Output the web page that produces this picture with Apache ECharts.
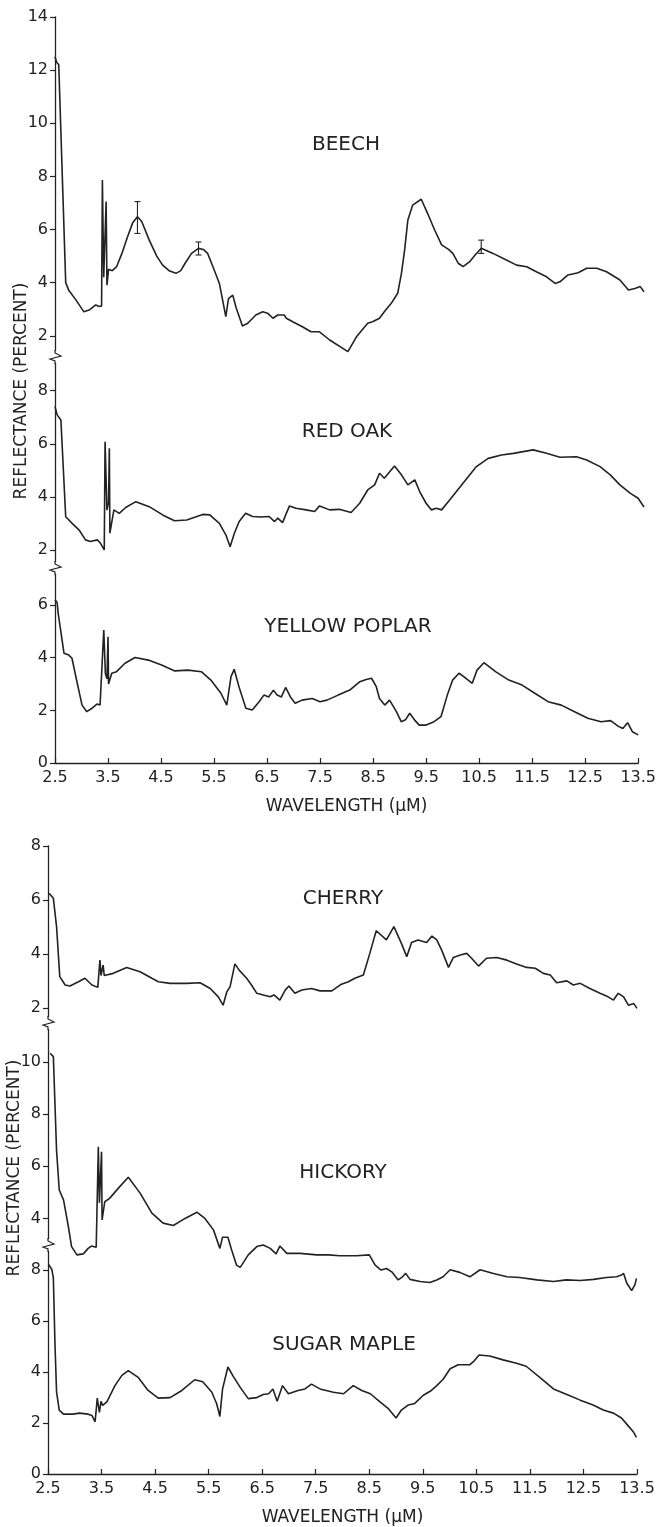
<!DOCTYPE html>
<html><head><meta charset="utf-8">
<script src="https://cdn.jsdelivr.net/npm/echarts@6/dist/echarts.min.js"></script>
<style>html,body{margin:0;padding:0;background:#fff}#c{width:659px;height:1527px}</style>
</head><body><div id="c"></div>
<script>
// ---------- DATA ----------
const xTicks = [2.5,3.5,4.5,5.5,6.5,7.5,8.5,9.5,10.5,11.5,12.5,13.5];
const beechTicks = [2,4,6,8,10,12,14];
const redOakTicks = [2,4,6,8];
const poplarTicks = [0,2,4,6];
const cherryTicks = [2,4,6,8];
const hickoryTicks = [4,6,8,10];
const mapleTicks = [0,2,4,6,8];
const names = ['BEECH','RED OAK','YELLOW POPLAR','CHERRY','HICKORY','SUGAR MAPLE'];
const xTitle = 'WAVELENGTH (µM)';
const yTitle = 'REFLECTANCE (PERCENT)';

const beech = [[2.50,12.5],[2.53,12.3],[2.57,12.2],[2.70,4.0],[2.76,3.7],[2.89,3.35],[3.04,2.90],[3.15,2.98],[3.26,3.16],[3.33,3.10],[3.37,3.12],[3.385,7.86],[3.41,4.2],[3.455,7.05],[3.47,3.9],[3.50,4.5],[3.57,4.45],[3.65,4.6],[3.75,5.1],[3.85,5.7],[3.95,6.25],[4.04,6.48],[4.12,6.3],[4.26,5.6],[4.40,5.0],[4.51,4.66],[4.63,4.45],[4.76,4.35],[4.85,4.45],[4.93,4.73],[5.05,5.1],[5.18,5.29],[5.27,5.25],[5.35,5.1],[5.45,4.6],[5.57,3.97],[5.69,2.72],[5.74,3.4],[5.82,3.53],[5.88,3.07],[6.0,2.37],[6.1,2.47],[6.25,2.78],[6.38,2.90],[6.47,2.85],[6.57,2.66],[6.66,2.78],[6.78,2.78],[6.82,2.66],[6.94,2.53],[7.12,2.34],[7.28,2.15],[7.44,2.15],[7.63,1.84],[7.97,1.40],[8.13,1.96],[8.34,2.47],[8.43,2.53],[8.56,2.66],[8.65,2.90],[8.78,3.22],[8.90,3.6],[8.97,4.35],[9.03,5.23],[9.09,6.36],[9.18,6.92],[9.34,7.14],[9.46,6.6],[9.59,5.98],[9.72,5.42],[9.85,5.25],[9.93,5.10],[10.03,4.73],[10.12,4.60],[10.24,4.78],[10.35,5.05],[10.46,5.29],[10.68,5.10],[10.93,4.85],[11.12,4.66],[11.31,4.60],[11.49,4.41],[11.68,4.22],[11.84,3.97],[11.93,4.03],[12.08,4.29],[12.27,4.37],[12.43,4.54],[12.62,4.54],[12.80,4.41],[12.93,4.25],[13.05,4.10],[13.21,3.72],[13.33,3.78],[13.43,3.85],[13.50,3.66]];
const beechErr = [[4.04,5.85,7.05],[5.18,5.04,5.53],[10.46,5.1,5.6]];

const redOak = [[2.50,7.40],[2.54,7.09],[2.57,7.1],[2.61,6.9],[2.70,3.25],[2.82,3.0],[2.95,2.75],[3.07,2.38],[3.16,2.32],[3.29,2.38],[3.35,2.25],[3.42,2.0],[3.435,6.08],[3.47,3.5],[3.50,3.8],[3.515,5.83],[3.525,2.63],[3.60,3.51],[3.70,3.38],[3.82,3.6],[4.01,3.82],[4.26,3.63],[4.51,3.32],[4.73,3.10],[4.96,3.13],[5.26,3.34],[5.39,3.32],[5.57,3.0],[5.69,2.57],[5.77,2.12],[5.85,2.63],[5.94,3.07],[6.06,3.38],[6.19,3.26],[6.35,3.24],[6.50,3.26],[6.60,3.07],[6.66,3.20],[6.75,3.03],[6.82,3.38],[6.88,3.66],[7.00,3.57],[7.19,3.51],[7.35,3.45],[7.44,3.66],[7.63,3.51],[7.81,3.53],[8.03,3.41],[8.19,3.76],[8.34,4.26],[8.47,4.45],[8.56,4.89],[8.65,4.70],[8.84,5.16],[8.97,4.83],[9.09,4.45],[9.22,4.64],[9.31,4.20],[9.43,3.76],[9.53,3.51],[9.62,3.57],[9.72,3.51],[9.87,3.88],[10.12,4.51],[10.37,5.14],[10.59,5.45],[10.84,5.58],[11.06,5.64],[11.43,5.77],[11.68,5.64],[11.93,5.49],[12.24,5.51],[12.43,5.39],[12.68,5.14],[12.87,4.83],[13.05,4.45],[13.24,4.14],[13.39,3.95],[13.50,3.62]];

const poplar = [[2.50,6.20],[2.54,6.1],[2.56,5.69],[2.67,4.17],[2.76,4.10],[2.82,3.98],[2.92,3.03],[3.01,2.20],[3.10,1.95],[3.19,2.07],[3.29,2.24],[3.35,2.20],[3.42,5.05],[3.45,3.4],[3.48,3.2],[3.50,4.80],[3.51,3.0],[3.57,3.41],[3.66,3.47],[3.82,3.79],[4.01,4.01],[4.26,3.91],[4.51,3.72],[4.76,3.50],[5.01,3.53],[5.26,3.47],[5.44,3.15],[5.63,2.65],[5.74,2.20],[5.82,3.28],[5.88,3.56],[5.97,2.90],[6.10,2.08],[6.22,2.01],[6.35,2.33],[6.44,2.58],[6.53,2.51],[6.62,2.77],[6.69,2.58],[6.77,2.51],[6.85,2.87],[6.94,2.51],[7.03,2.27],[7.16,2.39],[7.35,2.45],[7.50,2.33],[7.63,2.39],[7.84,2.58],[8.06,2.77],[8.25,3.09],[8.37,3.17],[8.47,3.22],[8.56,2.90],[8.62,2.45],[8.72,2.20],[8.81,2.39],[8.94,1.95],[9.03,1.57],[9.11,1.64],[9.19,1.89],[9.28,1.64],[9.37,1.44],[9.50,1.44],[9.65,1.57],[9.78,1.76],[9.90,2.58],[10.0,3.15],[10.12,3.41],[10.21,3.28],[10.37,3.03],[10.46,3.53],[10.59,3.81],[10.81,3.47],[11.06,3.15],[11.31,2.96],[11.55,2.65],[11.80,2.33],[12.05,2.20],[12.30,1.95],[12.55,1.70],[12.80,1.57],[12.98,1.61],[13.12,1.40],[13.21,1.31],[13.30,1.53],[13.39,1.19],[13.50,1.07]];

const cherry = [[2.52,6.25],[2.60,6.06],[2.66,5.01],[2.72,3.16],[2.82,2.85],[2.91,2.81],[3.07,2.97],[3.19,3.10],[3.32,2.85],[3.43,2.76],[3.47,3.77],[3.49,3.2],[3.53,3.59],[3.55,3.2],[3.72,3.28],[3.97,3.50],[4.22,3.34],[4.44,3.10],[4.56,2.97],[4.78,2.91],[5.09,2.91],[5.34,2.93],[5.53,2.72],[5.68,2.41],[5.77,2.10],[5.84,2.60],[5.90,2.78],[5.99,3.63],[6.07,3.40],[6.21,3.10],[6.30,2.85],[6.40,2.54],[6.52,2.48],[6.65,2.41],[6.72,2.48],[6.83,2.29],[6.93,2.66],[7.00,2.81],[7.11,2.54],[7.24,2.66],[7.42,2.72],[7.58,2.63],[7.80,2.63],[7.98,2.88],[8.11,2.97],[8.23,3.10],[8.39,3.22],[8.51,4.02],[8.63,4.86],[8.82,4.52],[8.96,5.01],[9.10,4.39],[9.20,3.90],[9.29,4.42],[9.41,4.52],[9.57,4.42],[9.67,4.66],[9.76,4.52],[9.85,4.15],[9.98,3.50],[10.07,3.87],[10.20,3.96],[10.32,4.02],[10.41,3.84],[10.54,3.55],[10.69,3.84],[10.88,3.87],[11.07,3.77],[11.25,3.63],[11.44,3.50],[11.60,3.47],[11.75,3.28],[11.88,3.22],[12.0,2.93],[12.19,3.0],[12.31,2.85],[12.44,2.91],[12.62,2.72],[12.81,2.54],[12.96,2.41],[13.06,2.29],[13.15,2.54],[13.25,2.41],[13.34,2.10],[13.44,2.16],[13.50,1.98]];

const hickory = [[2.54,10.34],[2.60,10.21],[2.66,6.6],[2.71,5.09],[2.79,4.71],[2.88,3.69],[2.94,2.92],[3.04,2.60],[3.16,2.64],[3.25,2.85],[3.31,2.94],[3.40,2.89],[3.44,6.75],[3.46,4.6],[3.50,6.56],[3.51,3.94],[3.56,4.64],[3.65,4.77],[3.84,5.22],[4.0,5.58],[4.22,4.97],[4.44,4.20],[4.65,3.82],[4.84,3.73],[5.06,4.0],[5.28,4.24],[5.43,4.0],[5.59,3.56],[5.71,2.85],[5.76,3.28],[5.86,3.28],[5.93,2.79],[6.02,2.21],[6.09,2.12],[6.24,2.60],[6.40,2.92],[6.52,2.98],[6.65,2.85],[6.76,2.64],[6.83,2.94],[6.96,2.66],[7.21,2.66],[7.52,2.60],[7.74,2.60],[7.95,2.57],[8.26,2.57],[8.50,2.60],[8.61,2.21],[8.72,2.02],[8.82,2.08],[8.92,1.95],[9.04,1.64],[9.12,1.76],[9.18,1.89],[9.26,1.66],[9.45,1.58],[9.63,1.54],[9.76,1.64],[9.88,1.76],[10.01,2.03],[10.19,1.93],[10.38,1.76],[10.57,2.03],[10.82,1.89],[11.07,1.76],[11.31,1.73],[11.63,1.64],[11.94,1.58],[12.18,1.64],[12.44,1.62],[12.69,1.66],[12.93,1.73],[13.12,1.76],[13.21,1.83],[13.25,1.89],[13.31,1.51],[13.40,1.23],[13.46,1.45],[13.49,1.70]];

const maple = [[2.51,8.23],[2.57,8.04],[2.60,7.7],[2.63,5.12],[2.66,3.21],[2.71,2.51],[2.79,2.35],[2.96,2.35],[3.09,2.39],[3.25,2.35],[3.32,2.30],[3.38,2.05],[3.42,2.98],[3.46,2.42],[3.49,2.85],[3.52,2.69],[3.60,2.83],[3.75,3.47],[3.88,3.87],[4.0,4.06],[4.19,3.78],[4.37,3.28],[4.56,2.98],[4.78,3.0],[5.0,3.28],[5.24,3.70],[5.39,3.62],[5.56,3.21],[5.65,2.76],[5.71,2.26],[5.76,3.34],[5.86,4.20],[5.96,3.83],[6.09,3.40],[6.24,2.96],[6.40,3.0],[6.52,3.12],[6.62,3.15],[6.70,3.34],[6.78,2.86],[6.88,3.47],[6.99,3.15],[7.17,3.28],[7.30,3.34],[7.42,3.53],[7.58,3.34],[7.83,3.21],[8.02,3.15],[8.20,3.47],[8.36,3.28],[8.52,3.15],[8.70,2.83],[8.85,2.58],[9.0,2.20],[9.10,2.51],[9.23,2.71],[9.35,2.77],[9.51,3.09],[9.66,3.28],[9.76,3.47],[9.88,3.72],[10.01,4.13],[10.16,4.29],[10.38,4.29],[10.45,4.42],[10.55,4.67],[10.75,4.63],[11.0,4.48],[11.25,4.35],[11.43,4.23],[11.69,3.78],[11.94,3.34],[12.19,3.12],[12.44,2.90],[12.68,2.71],[12.87,2.51],[13.06,2.39],[13.21,2.20],[13.34,1.88],[13.43,1.66],[13.49,1.44]];

// ---------- LAYOUT / STYLE ----------
const seriesData = [beech, redOak, poplar, cherry, hickory, maple];
const tickSets = [beechTicks, redOakTicks, poplarTicks, cherryTicks, hickoryTicks, mapleTicks];
const yRanges = [[1.2,14],[1.32,9.27],[0,7.41],[1.44,8],[2.98,11.5],[0,8.99]];
const grids = [
  {left:55, top:17, width:589, height:340},
  {left:55, top:357, width:589, height:211},
  {left:55, top:568, width:589, height:195},
  {left:48, top:846, width:589, height:177},
  {left:48, top:1023, width:589, height:222},
  {left:48, top:1245, width:589, height:236}
];
const showX = [false,false,true,false,false,true];
const labelPos = [[346,145],[347,432],[348,627],[343,899],[343,1173],[344,1345]];
const yTitlePos = [[22,391],[15,1168]];

const INK = '#222';
const FONT = 'DejaVu Sans';

const chart = echarts.init(document.getElementById('c'), null, {renderer:'canvas'});

const option = {
  backgroundColor:'#fff',
  animation:false,
  grid: grids.map(g => Object.assign({containLabel:false}, g)),
  xAxis: grids.map((g,i) => ({
    type:'value', gridIndex:i, min:2.5, max:13.5, show:showX[i],
    name: showX[i] ? xTitle : '', nameLocation:'middle', nameGap:35,
    nameTextStyle:{fontFamily:FONT, fontSize:17, color:INK},
    axisLine:{show:true, onZero:false, lineStyle:{color:INK, width:1.3}},
    axisTick:{show:true, inside:true, length:5, customValues:xTicks, lineStyle:{color:INK, width:1.2}},
    axisLabel:{show:true, margin:7, customValues:xTicks, fontFamily:FONT, fontSize:16, color:INK,
      formatter: v => String(v)},
    splitLine:{show:false}
  })),
  yAxis: grids.map((g,i) => ({
    type:'value', gridIndex:i, min:yRanges[i][0], max:yRanges[i][1],
    axisLine:{show:true, onZero:false, lineStyle:{color:INK, width:1.3}},
    axisTick:{show:true, inside:false, length:5, customValues:tickSets[i], lineStyle:{color:INK, width:1.2}},
    axisLabel:{show:true, margin:7, customValues:tickSets[i], fontFamily:FONT, fontSize:16, color:INK,
      formatter: v => String(v)},
    splitLine:{show:false}
  })),
  series: seriesData.map((d,i) => ({
    type:'line', name:names[i], xAxisIndex:i, yAxisIndex:i, data:d,
    showSymbol:false, symbol:'none', clip:false, smooth:false,
    lineStyle:{color:INK, width:1.6}, z:5
  })).concat([{
    type:'custom', xAxisIndex:0, yAxisIndex:0, data:beechErr, clip:false, z:6,
    encode:{x:0, y:[1,2]},
    renderItem:(params, api) => {
      const lo = api.coord([api.value(0), api.value(1)]);
      const hi = api.coord([api.value(0), api.value(2)]);
      const w = 3;
      const st = {stroke:INK, lineWidth:1.1};
      return {type:'group', children:[
        {type:'line', shape:{x1:lo[0], y1:lo[1], x2:hi[0], y2:hi[1]}, style:st},
        {type:'line', shape:{x1:lo[0]-w, y1:lo[1], x2:lo[0]+w, y2:lo[1]}, style:st},
        {type:'line', shape:{x1:hi[0]-w, y1:hi[1], x2:hi[0]+w, y2:hi[1]}, style:st}
      ]};
    }
  }])
};
chart.setOption(option);

// graphics: species labels, y titles, axis break marks (positions from the library's layout)
const gfx = [];
names.forEach((n,i) => {
  gfx.push({type:'text', x:labelPos[i][0], y:labelPos[i][1], z:20,
    style:{text:n, fontFamily:FONT, fontSize:20, fill:INK, align:'center', verticalAlign:'middle'}});
});
yTitlePos.forEach(p => {
  gfx.push({type:'text', x:p[0], y:p[1], rotation:Math.PI/2, z:20,
    style:{text:yTitle, fontFamily:FONT, fontSize:17, fill:INK, align:'center', verticalAlign:'middle'}});
});
[0,1,3,4].forEach(i => {
  const p = chart.convertToPixel({xAxisIndex:i, yAxisIndex:i}, [2.5, yRanges[i][0]]);
  const x = p[0], y = p[1];
  gfx.push({type:'rect', z:30, shape:{x:x-3, y:y-6, width:6, height:12}, style:{fill:'#fff'}});
  gfx.push({type:'polyline', z:31, shape:{points:[[x,y-7],[x,y-4],[x+6,y-1],[x-5,y+2],[x,y+4],[x,y+7]]},
    style:{stroke:INK, lineWidth:1.2, fill:null}});
});
chart.setOption({graphic: gfx});
</script>
</body></html>
